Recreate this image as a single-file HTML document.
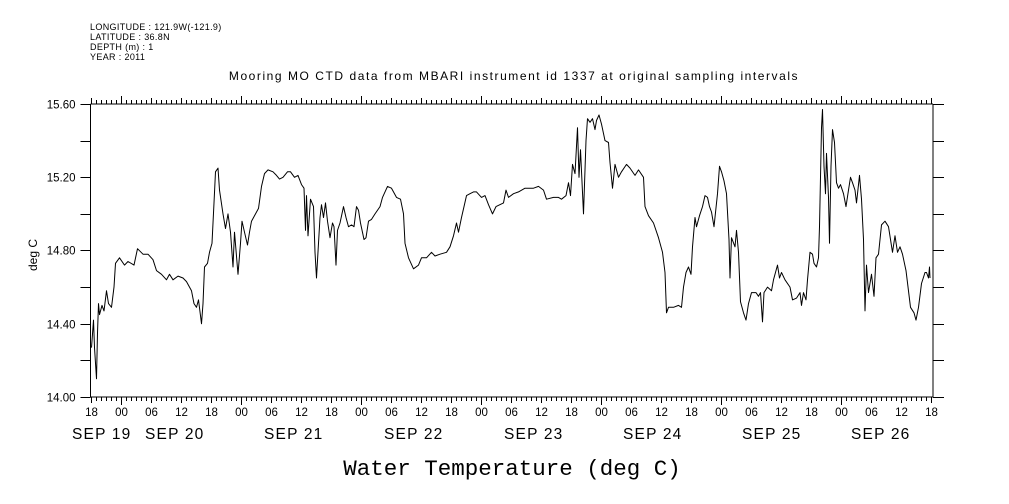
<!DOCTYPE html>
<html><head><meta charset="utf-8"><style>
html,body{margin:0;padding:0;background:#fff;}
svg{display:block;font-family:"Liberation Sans",sans-serif;}
</style></head><body>
<svg id="chart" width="1009" height="504" viewBox="0 0 1009 504" xmlns="http://www.w3.org/2000/svg">
<g font-size="9" fill="#000" letter-spacing="0.35">
<text x="90" y="30">LONGITUDE : 121.9W(-121.9)</text>
<text x="90" y="40">LATITUDE : 36.8N</text>
<text x="90" y="50">DEPTH (m) : 1</text>
<text x="90" y="60">YEAR : 2011</text>
</g>
<text x="514" y="80" text-anchor="middle" font-size="12" letter-spacing="1.55">Mooring MO CTD data from MBARI instrument id 1337 at original sampling intervals</text>
<text x="512" y="475" text-anchor="middle" font-size="22.5" font-family="Liberation Mono, monospace">Water Temperature (deg C)</text>
<text transform="translate(37,255) rotate(-90)" text-anchor="middle" font-size="12">deg C</text>
<g id="axes" shape-rendering="crispEdges" stroke="#000" stroke-width="1"></g>
<g id="labels" font-size="11.5" fill="#000"></g>
<path id="series" fill="none" stroke="#000" stroke-width="1" stroke-linejoin="round"></path>
</svg>
<script>
// Hours since 18:00 SEP 19 2011
const hours = [0.2,0.6,0.8,1.2,1.4,1.6,1.8,2.3,2.7,3.2,3.6,4.2,4.7,5.0,5.8,6.8,7.5,8.7,9.4,10.5,11.5,12.5,13.2,14.2,15.2,15.8,16.5,17.5,18.5,19.2,20.2,20.7,21.2,21.6,22.2,22.5,22.8,23.4,23.8,24.3,24.7,25.0,25.5,25.8,26.5,27.0,27.5,28.0,28.5,28.8,29.5,30.0,30.3,30.8,31.4,31.8,32.2,32.8,33.6,34.2,34.8,35.5,36.5,37.2,37.8,38.5,39.4,40.0,40.8,41.5,42.2,42.7,43.0,43.2,43.5,44.0,44.6,44.9,45.2,45.6,45.9,46.2,46.6,47.0,47.4,47.9,48.4,48.7,49.1,49.4,49.9,50.6,51.1,51.6,52.2,52.7,53.2,53.6,54.0,54.7,55.1,55.6,56.2,56.9,57.9,58.4,59.4,60.2,61.2,62.0,62.6,62.9,63.6,64.6,65.6,66.2,67.2,68.2,68.9,69.9,71.2,71.9,72.6,73.2,73.6,74.2,74.7,75.2,75.9,76.6,77.2,78.2,78.9,79.6,80.4,81.1,82.6,83.1,83.6,84.6,85.6,86.9,88.6,89.6,90.6,91.2,92.6,93.6,94.2,95.1,95.6,96.0,96.4,96.9,97.4,97.7,98.0,98.6,99.1,99.4,99.9,100.4,100.9,101.2,101.7,102.2,102.9,103.6,103.9,104.4,104.9,105.6,106.2,107.2,107.9,108.9,109.6,110.6,110.9,111.6,112.6,113.6,114.4,114.9,115.2,115.6,116.6,117.6,118.2,118.6,119.1,119.6,120.1,120.4,120.9,121.2,121.8,122.4,122.9,123.4,123.8,124.2,124.7,125.4,125.8,126.2,126.7,127.2,127.7,127.9,128.2,128.9,129.2,129.6,130.0,130.6,131.1,131.6,132.2,133.1,133.6,134.0,134.4,134.7,135.4,136.2,136.6,137.4,137.8,138.2,138.9,139.9,140.4,141.2,141.9,142.2,142.6,143.1,143.4,143.9,144.4,144.7,145.2,145.6,145.8,146.0,146.2,146.4,146.7,147.0,147.2,147.6,147.8,148.1,148.4,148.8,149.2,149.6,150.0,150.6,151.1,151.6,152.0,152.4,152.9,153.2,153.8,154.2,154.6,154.9,155.2,155.6,156.2,156.7,157.1,157.6,158.2,158.9,159.6,160.0,160.4,160.9,161.4,161.9,162.4,163.1,164.0,164.7,165.1,165.6,166.2,166.9,167.2,167.6,167.8,167.9];
const temps = [14.27,14.42,14.27,14.10,14.35,14.51,14.45,14.50,14.47,14.58,14.51,14.49,14.60,14.73,14.76,14.72,14.74,14.72,14.81,14.78,14.78,14.75,14.69,14.67,14.64,14.67,14.64,14.66,14.65,14.63,14.58,14.51,14.49,14.53,14.40,14.51,14.71,14.73,14.79,14.84,15.06,15.23,15.25,15.13,15.00,14.92,15.00,14.90,14.71,14.90,14.67,14.84,14.96,14.90,14.83,14.90,14.96,14.99,15.03,15.15,15.22,15.24,15.23,15.21,15.19,15.20,15.23,15.23,15.20,15.21,15.16,15.14,14.91,15.10,14.88,15.08,15.04,14.79,14.65,14.84,14.98,15.05,14.98,15.06,14.96,14.87,14.95,14.93,14.72,14.91,14.95,15.04,14.98,14.93,14.94,14.93,15.04,15.02,14.95,14.86,14.87,14.96,14.97,15.00,15.04,15.09,15.15,15.14,15.09,15.08,15.00,14.84,14.76,14.70,14.72,14.76,14.76,14.79,14.77,14.78,14.79,14.82,14.88,14.95,14.90,14.98,15.04,15.10,15.11,15.12,15.12,15.09,15.10,15.05,15.00,15.04,15.06,15.13,15.09,15.11,15.12,15.14,15.14,15.15,15.13,15.08,15.09,15.09,15.08,15.10,15.17,15.10,15.27,15.22,15.47,15.20,15.35,15.00,15.40,15.52,15.50,15.52,15.46,15.51,15.54,15.49,15.40,15.39,15.28,15.14,15.27,15.20,15.23,15.27,15.25,15.21,15.24,15.20,15.04,14.99,14.95,14.87,14.79,14.68,14.46,14.49,14.49,14.50,14.49,14.60,14.68,14.71,14.67,14.82,14.98,14.93,14.99,15.04,15.10,15.09,15.04,15.01,14.93,15.11,15.26,15.23,15.18,15.11,14.86,14.65,14.87,14.82,14.91,14.79,14.52,14.46,14.42,14.51,14.57,14.57,14.55,14.57,14.41,14.57,14.60,14.58,14.64,14.72,14.65,14.68,14.64,14.60,14.53,14.54,14.57,14.50,14.57,14.53,14.64,14.79,14.78,14.73,14.71,14.76,14.93,15.20,15.47,15.57,15.26,15.11,15.33,15.09,14.84,15.26,15.46,15.39,15.17,15.14,15.16,15.11,15.04,15.13,15.20,15.17,15.13,15.06,15.21,15.08,14.86,14.47,14.72,14.57,14.67,14.55,14.76,14.78,14.94,14.96,14.93,14.86,14.79,14.88,14.79,14.82,14.78,14.69,14.49,14.46,14.42,14.49,14.62,14.68,14.68,14.65,14.71,14.65];
const yTicks = [14.0,14.2,14.4,14.6,14.8,15.0,15.2,15.4,15.6];
const yTickLabels = ["14.00","","14.40","","14.80","","15.20","","15.60"];
const hourLabels = ["18","00","06","12"];
const dayLabels = ["SEP 19","SEP 20","SEP 21","SEP 22","SEP 23","SEP 24","SEP 25","SEP 26"];
const dayLabelX = [72,145,264,384,504,623,742,851];

const X0=90.5, X1=933, Y0=104, Y1=397;
const HMAX=(X1-X0)/5;
function xs(h){return X0+h*(X1-X0)/HMAX;}
function ys(t){return Y0+(15.6-t)*(Y1-Y0)/1.6;}
const NS="http://www.w3.org/2000/svg";
const axes=document.getElementById('axes'), labels=document.getElementById('labels');
function line(x1,y1,x2,y2,name){const l=document.createElementNS(NS,'line');l.setAttribute('x1',x1);l.setAttribute('y1',y1);l.setAttribute('x2',x2);l.setAttribute('y2',y2);


axes.appendChild(l);}
function text(x,y,s,anchor,size,name,ls){const t=document.createElementNS(NS,'text');t.setAttribute('x',x);t.setAttribute('y',y);t.setAttribute('text-anchor',anchor);if(size)t.setAttribute('font-size',size);if(ls)t.setAttribute('letter-spacing',ls);t.textContent=s;


labels.appendChild(t);}
line(X0,Y0,X1,Y0,'plot-frame-top');line(X0,Y1,X1,Y1,'plot-frame-bottom');
line(X0,Y0,X0,Y1,'y-axis-left');line(X1,Y0,X1,Y1,'y-axis-right');
yTicks.forEach((v,i)=>{const y=Math.round(ys(v))+0.5;
line(X0-10,y,X0,y,'y-tick-left');line(X1,y,X1+11,y,'y-tick-right');
if(yTickLabels[i])text(X0-15,y+4,yTickLabels[i],'end',null,'y-tick-label');});
for(let h=0;h<=HMAX;h++){const x=Math.round(xs(h))+0.5;const hr=(18+h)%24;
const len=hr===0?8:(hr%6===0?6:4);
line(x,Y1,x,Y1+len,'x-tick-bottom');line(x,Y0,x,Y0-len,'x-tick-top');
if(hr%6===0)text(x,Y1+19,hourLabels[[18,0,6,12].indexOf(hr)],'middle',null,'x-hour-label');}
dayLabels.forEach((d,i)=>text(dayLabelX[i],Y1+42,d,'start',15.5,'x-date-label','1.2'));
let dstr='';hours.forEach((h,i)=>{dstr+=(i?'L':'M')+xs(h).toFixed(1)+','+ys(temps[i]).toFixed(1);});
document.getElementById('series').setAttribute('d',dstr);
</script>
</body></html>
